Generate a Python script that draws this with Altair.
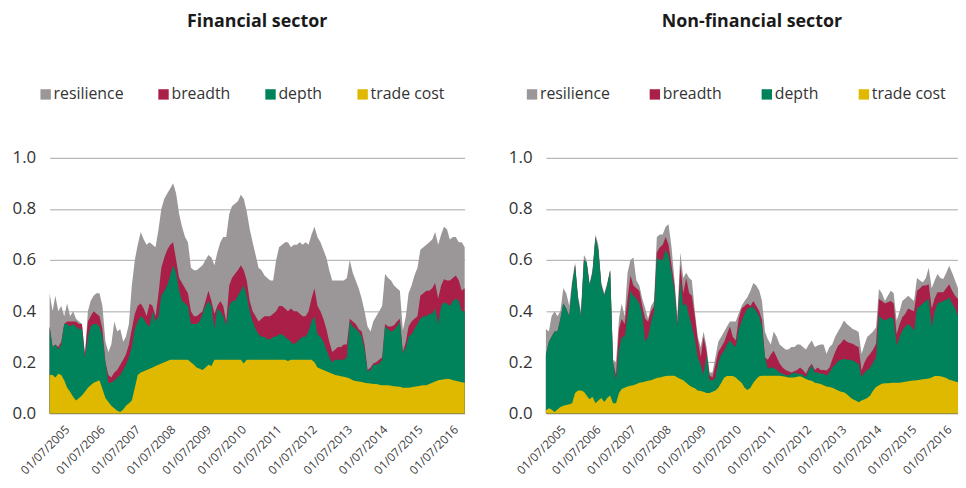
import altair as alt
import pandas as pd

# Monthly observations, Jan 2005 .. Oct 2016 (142 months)
months = pd.date_range("2005-01-01", periods=142, freq="MS")
dates = [d.strftime("%Y-%m-%dT00:00:00") for d in months]

SERIES = ["resilience", "breadth", "depth", "trade cost"]
COLORS = ["#9B9697", "#A91F48", "#00825A", "#DFB800"]

# ---- Financial sector: upper edge of each stacked band (cumulative level) ----
fin_trade_cost_top = [
    .15, .15, .14, .155, .15, .13, .10, .085, .065, .05,
    .06, .07, .085, .10, .11, .12, .125, .13, .095, .06,
    .045, .03, .02, .01, .005, .015, .03, .04, .05, .10,
    .15, .16, .165, .17, .175, .18, .185, .19, .195, .20,
    .205, .21, .21, .21, .21, .21, .21, .21, .20, .19,
    .18, .175, .17, .18, .19, .185, .21, .21, .21, .21,
    .21, .21, .21, .21, .21, .21, .195, .21, .21, .21,
    .21, .21, .21, .21, .21, .21, .21, .21, .21, .21,
    .21, .205, .21, .21, .21, .21, .21, .21, .21, .21,
    .20, .18, .175, .17, .165, .16, .155, .15, .148, .145,
    .143, .14, .137, .13, .127, .125, .123, .12, .118, .117,
    .115, .115, .112, .11, .11, .11, .108, .106, .105, .104,
    .10, .10, .10, .102, .104, .106, .108, .11, .11, .115,
    .12, .125, .13, .132, .134, .135, .135, .13, .128, .125,
    .122, .12]
fin_depth_top = [
    .34, .26, .27, .25, .27, .35, .35, .34, .35, .34,
    .33, .33, .22, .30, .34, .35, .35, .34, .30, .20,
    .12, .12, .13, .14, .15, .17, .19, .22, .26, .33,
    .36, .38, .37, .35, .34, .40, .36, .38, .46, .48,
    .50, .54, .58, .55, .48, .44, .43, .42, .35, .35,
    .35, .36, .39, .42, .44, .42, .33, .41, .40, .38,
    .345, .42, .44, .44, .46, .48, .50, .46, .40, .36,
    .33, .31, .30, .30, .29, .29, .30, .30, .31, .31,
    .30, .29, .28, .27, .28, .29, .30, .30, .32, .36,
    .38, .31, .30, .28, .25, .22, .20, .21, .21, .21,
    .21, .22, .36, .34, .33, .32, .30, .25, .165, .17,
    .19, .19, .195, .21, .34, .33, .32, .325, .34, .36,
    .235, .26, .30, .31, .33, .35, .37, .38, .38, .39,
    .39, .41, .35, .42, .435, .43, .42, .44, .45, .44,
    .40, .40]
fin_breadth_top = [
    .34, .26, .27, .26, .28, .35, .36, .36, .36, .36,
    .35, .35, .23, .36, .38, .40, .39, .38, .33, .20,
    .15, .14, .16, .17, .19, .21, .23, .27, .33, .39,
    .42, .43, .41, .38, .43, .42, .38, .47, .57, .61,
    .64, .66, .67, .60, .53, .51, .49, .47, .40, .38,
    .38, .39, .40, .44, .48, .44, .39, .42, .44, .42,
    .36, .50, .53, .545, .56, .58, .56, .52, .44, .40,
    .38, .36, .37, .38, .38, .38, .39, .40, .42, .42,
    .41, .40, .41, .40, .40, .39, .38, .38, .40, .45,
    .49, .42, .40, .37, .33, .28, .24, .25, .26, .26,
    .27, .27, .37, .36, .35, .33, .32, .27, .17, .18,
    .195, .20, .21, .22, .35, .34, .34, .345, .36, .37,
    .24, .28, .34, .36, .37, .38, .46, .47, .48, .48,
    .49, .51, .45, .50, .525, .52, .52, .53, .54, .52,
    .48, .49]
fin_resilience_top = [
    .47, .40, .46, .40, .42, .38, .43, .38, .40, .37,
    .36, .35, .23, .40, .44, .46, .47, .47, .42, .28,
    .24, .27, .36, .32, .33, .28, .30, .35, .50, .60,
    .66, .71, .68, .66, .67, .66, .65, .72, .80, .84,
    .86, .88, .90, .86, .78, .73, .69, .67, .57, .56,
    .56, .57, .58, .60, .62, .61, .58, .63, .67, .69,
    .69, .78, .81, .82, .83, .855, .84, .79, .72, .67,
    .62, .57, .56, .54, .53, .52, .52, .60, .65, .66,
    .67, .67, .65, .66, .66, .67, .66, .67, .66, .70,
    .73, .69, .67, .64, .61, .56, .52, .52, .52, .52,
    .52, .53, .60, .55, .52, .49, .45, .40, .34, .32,
    .36, .38, .40, .42, .545, .53, .52, .50, .49, .48,
    .325, .38, .47, .50, .54, .57, .64, .65, .66, .67,
    .68, .71, .66, .70, .73, .72, .68, .69, .69, .67,
    .67, .65]

# ---- Non-financial sector ----
nonfin_trade_cost_top = [
    .012, .02, .015, .005, .015, .025, .03, .033, .036, .04,
    .08, .09, .09, .085, .07, .055, .065, .04, .05, .06,
    .045, .06, .07, .04, .04, .08, .095, .10, .105, .108,
    .11, .115, .12, .122, .125, .128, .13, .135, .138, .14,
    .143, .146, .147, .147, .147, .14, .135, .13, .12, .11,
    .103, .098, .09, .088, .085, .08, .08, .085, .09, .10,
    .12, .14, .146, .146, .146, .14, .13, .12, .10, .092,
    .10, .12, .135, .145, .147, .147, .147, .147, .147, .147,
    .147, .145, .143, .14, .14, .14, .143, .145, .14, .135,
    .13, .128, .12, .118, .115, .11, .105, .103, .10, .095,
    .09, .085, .083, .075, .064, .055, .05, .044, .05, .055,
    .06, .07, .09, .103, .11, .116, .118, .118, .119, .12,
    .12, .12, .122, .124, .126, .128, .129, .13, .132, .134,
    .135, .137, .14, .146, .146, .145, .142, .138, .132, .129,
    .125, .122]
nonfin_depth_top = [
    .23, .28, .30, .32, .32, .37, .43, .41, .38, .50,
    .58, .45, .38, .60, .59, .50, .55, .69, .64, .50,
    .46, .50, .56, .20, .13, .25, .30, .30, .38, .48,
    .46, .45, .43, .39, .28, .30, .36, .40, .61, .60,
    .60, .64, .62, .55, .48, .34, .52, .42, .43, .38,
    .34, .29, .22, .19, .15, .23, .13, .13, .14, .20,
    .23, .245, .27, .285, .27, .26, .33, .36, .39, .41,
    .415, .415, .40, .38, .34, .22, .175, .18, .18, .17,
    .16, .155, .15, .148, .155, .16, .155, .155, .15, .142,
    .17, .187, .16, .16, .155, .155, .148, .16, .18, .19,
    .205, .21, .213, .21, .21, .207, .20, .194, .142, .16,
    .17, .18, .20, .22, .383, .37, .363, .37, .376, .37,
    .266, .30, .324, .34, .35, .34, .324, .41, .42, .43,
    .44, .448, .337, .40, .43, .435, .44, .445, .454, .43,
    .41, .383]
nonfin_breadth_top = [
    .23, .28, .30, .32, .32, .37, .43, .41, .38, .50,
    .58, .45, .38, .60, .59, .50, .55, .69, .64, .50,
    .46, .50, .56, .20, .15, .33, .37, .35, .45, .54,
    .50, .49, .48, .42, .37, .36, .40, .42, .63, .65,
    .66, .69, .66, .58, .50, .35, .58, .47, .53, .47,
    .46, .38, .29, .22, .30, .24, .15, .14, .19, .24,
    .26, .28, .31, .34, .30, .285, .37, .41, .42, .43,
    .42, .44, .42, .40, .365, .22, .21, .23, .245, .22,
    .195, .18, .17, .165, .16, .165, .17, .18, .17, .155,
    .18, .194, .17, .18, .17, .17, .168, .18, .21, .24,
    .265, .275, .29, .28, .275, .272, .265, .26, .168, .20,
    .22, .233, .25, .272, .448, .44, .43, .435, .44, .43,
    .31, .35, .376, .39, .41, .405, .40, .48, .49, .50,
    .50, .505, .41, .45, .474, .474, .474, .49, .505, .48,
    .46, .448]
nonfin_resilience_top = [
    .33, .32, .38, .40, .38, .40, .49, .47, .42, .52,
    .59, .46, .40, .62, .60, .51, .56, .70, .66, .51,
    .47, .51, .56, .21, .20, .37, .43, .38, .55, .60,
    .61, .52, .50, .45, .41, .37, .42, .44, .69, .70,
    .70, .73, .74, .65, .52, .38, .63, .53, .55, .53,
    .52, .40, .30, .26, .32, .26, .16, .16, .22, .28,
    .30, .32, .34, .36, .36, .36, .39, .42, .44, .455,
    .48, .51, .50, .48, .44, .32, .29, .27, .32, .30,
    .27, .26, .25, .25, .26, .26, .27, .27, .26, .25,
    .27, .285, .26, .266, .27, .27, .233, .26, .27, .30,
    .32, .34, .363, .35, .34, .33, .325, .318, .233, .27,
    .30, .31, .32, .337, .487, .47, .44, .46, .48, .47,
    .363, .40, .44, .45, .46, .45, .44, .53, .52, .513,
    .53, .57, .49, .52, .545, .53, .526, .55, .578, .55,
    .52, .49]

tick_years = list(range(2005, 2017))
FONT = "Open Sans"


def long_df(levels):
    rows = []
    for s, vals in zip(SERIES, levels):
        for d, v in zip(dates, vals):
            rows.append({"date": d, "series": s, "top": v})
    return pd.DataFrame(rows)


def panel(df, title, legend_x, col_pad, width):
    base = alt.Chart(df)
    layers = []
    for s in SERIES:
        layers.append(
            base.transform_filter(alt.datum.series == s)
            .mark_area(interpolate="linear", opacity=1)
            .encode(
                x=alt.X(
                    "date:T",
                    scale=alt.Scale(
                        domain=[alt.DateTime(year=2005, month=1, date=1),
                                alt.DateTime(year=2016, month=10, date=1)],
                        nice=False,
                    ),
                    axis=alt.Axis(
                        values=[alt.DateTime(year=y, month=7, date=1) for y in tick_years],
                        format="%d/%m/%Y",
                        labelAngle=315,
                        labelAlign="right",
                        labelBaseline="middle",
                        labelPadding=14,
                        labelFontSize=12,
                        labelColor="#404040",
                        labelFont=FONT,
                        labelOverlap=False,
                        domain=False,
                        ticks=False,
                        grid=False,
                        title=None,
                    ),
                ),
                y=alt.Y(
                    "top:Q",
                    stack=None,
                    scale=alt.Scale(domain=[0, 1], nice=False),
                    axis=alt.Axis(
                        values=[0, 0.2, 0.4, 0.6, 0.8, 1.0],
                        format=".1f",
                        labelFontSize=17,
                        labelColor="#333333",
                        labelFont=FONT,
                        labelPadding=14,
                        domain=False,
                        ticks=False,
                        gridColor="#A8A8A8",
                        gridWidth=1,
                        title=None,
                    ),
                ),
                color=alt.Color(
                    "series:N",
                    scale=alt.Scale(domain=SERIES, range=COLORS),
                    legend=alt.Legend(
                        orient="none",
                        legendX=legend_x,
                        legendY=-72,
                        direction="horizontal",
                        title=None,
                        symbolType="square",
                        symbolSize=110,
                        symbolStrokeWidth=0,
                        symbolOpacity=1,
                        labelFontSize=16,
                        labelColor="#333333",
                        labelFont=FONT,
                        labelOffset=0,
                        columnPadding=col_pad,
                    ),
                ),
            )
        )
    return alt.layer(*layers).properties(
        width=width,
        height=258,
        title=alt.TitleParams(
            title, fontSize=18, fontWeight="bold", font=FONT,
            color="#1A1A1A", anchor="middle", offset=56,
        ),
    )


left = panel(long_df([fin_resilience_top, fin_breadth_top, fin_depth_top, fin_trade_cost_top]),
             "Financial sector", -12, 32, 419)
right = panel(long_df([nonfin_resilience_top, nonfin_breadth_top, nonfin_depth_top, nonfin_trade_cost_top]),
              "Non-financial sector", -22, 37, 416)

chart = (
    alt.hconcat(left, right, spacing=44)
    .resolve_legend(color="independent")
    .properties(padding={"left": 4, "top": 3, "right": 0, "bottom": 0})
    .configure_view(stroke=None)
)

chart.save("out.html", embed_options={"renderer": "svg", "actions": False})
